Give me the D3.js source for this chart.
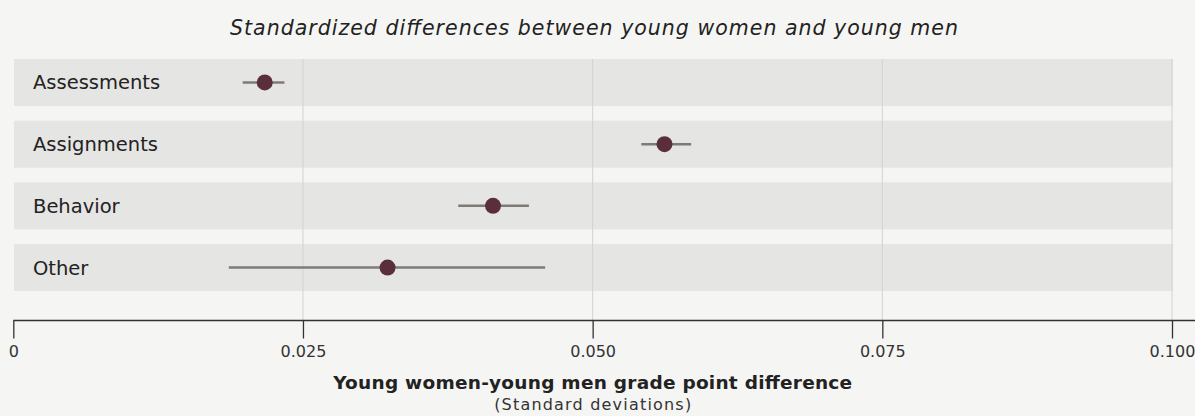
<!DOCTYPE html>
<html>
<head>
<meta charset="utf-8">
<script src="https://cdn.jsdelivr.net/npm/d3@7"></script>
<style>
  body { margin: 0; background: #f5f5f3; }
  #chart svg { display: block; font-family: "DejaVu Sans", sans-serif; }
</style>
</head>
<body>
<div id="chart"></div>
<script>
var width = 1195;
var height = 416;

// categories and estimates (standard deviations)
var categories = ["Assessments", "Assignments", "Behavior", "Other"];
var estimates = [0.0217, 0.0562, 0.0414, 0.0323];
var ciLow = [0.0198, 0.0542, 0.0384, 0.0186];
var ciHigh = [0.0234, 0.0585, 0.0445, 0.0459];
var tickValues = [0, 0.025, 0.05, 0.075, 0.1];
var tickLabels = ["0", "0.025", "0.050", "0.075", "0.100"];

var svg = d3.select("#chart").append("svg")
    .attr("width", width)
    .attr("height", height);

svg.append("rect")
    .attr("width", width)
    .attr("height", height)
    .attr("fill", "#f5f5f3");

var x = d3.scaleLinear()
    .domain([0, 0.1])
    .range([13.3, 1172]);

var y = d3.scaleBand()
    .domain(categories)
    .range([59, 291])
    .paddingInner(0.24)
    .paddingOuter(0);

// row bands
svg.append("g")
    .selectAll("rect")
    .data(categories)
    .enter()
    .append("rect")
    .attr("x", 14)
    .attr("width", 1173 - 14)
    .attr("y", function(d) { return y(d); })
    .attr("height", y.bandwidth())
    .attr("fill", "#e5e5e3");

// gridlines
svg.append("g")
    .selectAll("line")
    .data(tickValues.slice(1))
    .enter()
    .append("line")
    .attr("x1", function(d) { return x(d); })
    .attr("x2", function(d) { return x(d); })
    .attr("y1", 59)
    .attr("y2", 320)
    .attr("stroke", "#d2d2d0")
    .attr("stroke-width", 1);

// category labels
svg.append("g")
    .selectAll("text")
    .data(categories)
    .enter()
    .append("text")
    .attr("x", 33)
    .attr("y", function(d) { return y(d) + y.bandwidth() / 2; })
    .attr("dy", "0.36em")
    .attr("font-size", 19.5)
    .attr("fill", "#222")
    .text(function(d) { return d; });

var rows = categories.map(function(c, i) {
    return { cat: c, est: estimates[i], lo: ciLow[i], hi: ciHigh[i] };
});

// confidence intervals
svg.append("g")
    .selectAll("line")
    .data(rows)
    .enter()
    .append("line")
    .attr("x1", function(d) { return x(d.lo); })
    .attr("x2", function(d) { return x(d.hi); })
    .attr("y1", function(d) { return y(d.cat) + y.bandwidth() / 2; })
    .attr("y2", function(d) { return y(d.cat) + y.bandwidth() / 2; })
    .attr("stroke", "#7f7a74")
    .attr("stroke-width", 2.5);

// point estimates
svg.append("g")
    .selectAll("circle")
    .data(rows)
    .enter()
    .append("circle")
    .attr("cx", function(d) { return x(d.est); })
    .attr("cy", function(d) { return y(d.cat) + y.bandwidth() / 2; })
    .attr("r", 8)
    .attr("fill", "#5a2e3d");

// x axis
var xAxis = d3.axisBottom(x)
    .tickValues(tickValues)
    .tickFormat(function(d, i) { return tickLabels[i]; })
    .tickSizeOuter(0)
    .tickSizeInner(18)
    .tickPadding(7);

var gx = svg.append("g")
    .attr("transform", "translate(0,320.5)")
    .call(xAxis);

gx.select(".domain")
    .attr("d", "M" + x(0) + ",0H" + width)
    .attr("stroke", "#333")
    .attr("stroke-width", 1.3);
gx.selectAll(".tick line").attr("stroke", "#333").attr("stroke-width", 1.3);
gx.selectAll(".tick text")
    .style("font-family", "'DejaVu Sans', sans-serif")
    .style("font-size", "16px")
    .attr("fill", "#333");

// titles
svg.append("text")
    .attr("x", 594)
    .attr("y", 28)
    .attr("dy", "0.35em")
    .attr("text-anchor", "middle")
    .attr("font-size", 20.5)
    .attr("font-style", "italic")
    .attr("textLength", 728)
    .attr("lengthAdjust", "spacing")
    .attr("fill", "#222")
    .text("Standardized differences between young women and young men");

svg.append("text")
    .attr("x", x(0.05))
    .attr("y", 383)
    .attr("dy", "0.35em")
    .attr("text-anchor", "middle")
    .attr("font-size", 18.5)
    .attr("font-weight", "bold")
    .attr("textLength", 519)
    .attr("lengthAdjust", "spacing")
    .attr("fill", "#222")
    .text("Young women-young men grade point difference");

svg.append("text")
    .attr("x", x(0.05))
    .attr("y", 404)
    .attr("dy", "0.35em")
    .attr("text-anchor", "middle")
    .attr("font-size", 16)
    .attr("textLength", 197)
    .attr("lengthAdjust", "spacing")
    .attr("fill", "#333")
    .text("(Standard deviations)");
</script>
</body>
</html>
